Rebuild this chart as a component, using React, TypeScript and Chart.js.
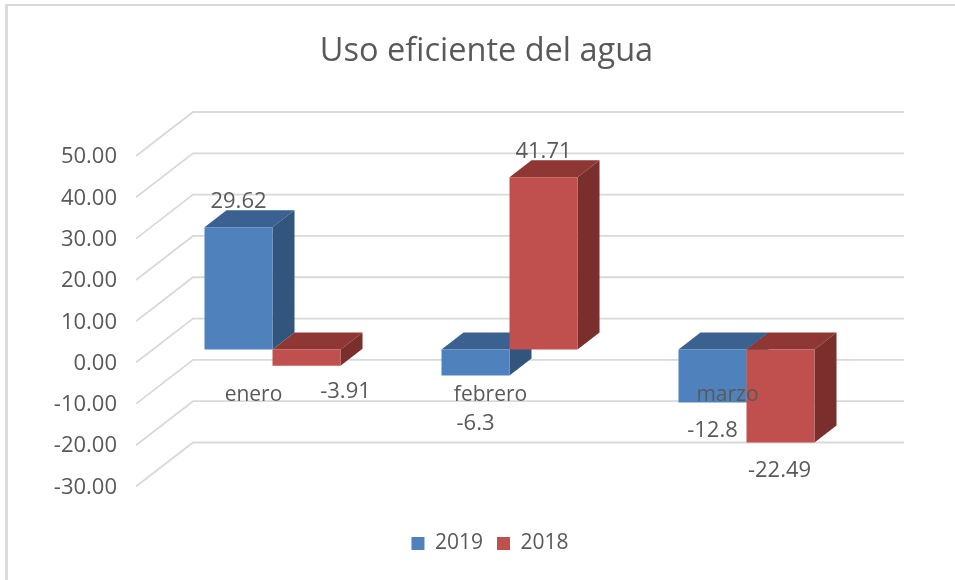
import React, { useEffect, useRef } from "react";
import { Chart, registerables } from "chart.js";

Chart.register(...registerables);

const categories = ["enero", "febrero", "marzo"];
const values2019 = [29.62, -6.3, -12.8];
const values2018 = [-3.91, 41.71, -22.49];
const labelShift2019 = [[0, -25], [0, 48], [0, 28]];
const labelShift2018 = [[39, 26], [0, -26], [-1, 28]];

const FONT = "'Open Sans', 'Noto Sans', sans-serif";
const TEXT = "#595959";
const GRID = "#d9d9d9";
const BACK_DX = 58, BACK_DY = -45;
const BAR_DX = 19, BAR_DY = -14;
const DEPTH_DX = 22, DEPTH_DY = -17;

const faces = [
  { front: "#4f81bd", top: "#3a6190", side: "#31557c" },
  { front: "#c0504d", top: "#8e3735", side: "#7a2f2d" },
];
const shifts = [labelShift2019, labelShift2018];

function poly(ctx: CanvasRenderingContext2D, pts: number[][], fill: string) {
  ctx.fillStyle = fill;
  ctx.beginPath();
  pts.forEach((p, i) => (i ? ctx.lineTo(p[0], p[1]) : ctx.moveTo(p[0], p[1])));
  ctx.closePath();
  ctx.fill();
}

const wallPlugin = {
  id: "wall",
  afterLayout(chart: any) {
    chart.legend.left += 3.5;
    chart.legend.right += 3.5;
  },
  beforeDatasetsDraw(chart: any) {
    const { ctx, chartArea, scales } = chart;
    ctx.save();
    ctx.strokeStyle = GRID;
    ctx.lineWidth = 1.8;
    scales.y.ticks.forEach((t: any) => {
      const y = scales.y.getPixelForValue(t.value);
      ctx.beginPath();
      ctx.moveTo(chartArea.left + 1, y - 1);
      ctx.lineTo(chartArea.left + BACK_DX, y + BACK_DY);
      ctx.lineTo(chartArea.right + BACK_DX, y + BACK_DY);
      ctx.stroke();
    });
    // Per-dataset painting so that the later series overlaps the earlier depth faces
    chart.data.datasets.forEach((_: any, di: number) => {
      const meta = chart.getDatasetMeta(di);
      const c = faces[di];
      meta.data.forEach((bar: any) => {
        const p = bar.getProps(["x", "y", "base", "width"], true);
        const l = p.x - p.width / 2 + BAR_DX, r = p.x + p.width / 2 + BAR_DX;
        const top = Math.min(p.y, p.base) + BAR_DY;
        const bot = Math.max(p.y, p.base) + BAR_DY;
        poly(ctx, [[l, top], [l + DEPTH_DX, top + DEPTH_DY], [r + DEPTH_DX, top + DEPTH_DY], [r, top]], c.top);
        poly(ctx, [[r, top], [r + DEPTH_DX, top + DEPTH_DY], [r + DEPTH_DX, bot + DEPTH_DY], [r, bot]], c.side);
        ctx.save();
        ctx.translate(BAR_DX, BAR_DY);
        bar.draw(ctx, chartArea);
        ctx.restore();
      });
    });
    ctx.restore();
    return false;
  },
  afterDraw(chart: any) {
    const { ctx } = chart;
    ctx.save();
    ctx.font = `22px ${FONT}`;
    ctx.fillStyle = TEXT;
    ctx.textAlign = "center";
    ctx.textBaseline = "middle";
    chart.data.datasets.forEach((ds: any, di: number) => {
      chart.getDatasetMeta(di).data.forEach((bar: any, i: number) => {
        const p = bar.getProps(["x", "y", "base"], true);
        const s = shifts[di][i];
        ctx.fillText(String(ds.data[i]), p.x + BAR_DX + s[0], p.y + BAR_DY + s[1]);
      });
    });
    ctx.restore();
  },
};

export default function App() {
  const ref = useRef<HTMLCanvasElement>(null);
  useEffect(() => {
    const chart = new Chart(ref.current!, {
      type: "bar",
      data: {
        labels: categories,
        datasets: [
          { label: "2019", data: values2019, backgroundColor: faces[0].front },
          { label: "2018", data: values2018, backgroundColor: faces[1].front },
        ],
      },
      plugins: [wallPlugin],
      options: {
        responsive: false,
        animation: false,
        events: [],
        layout: { padding: { left: 18, right: 0, top: 12, bottom: 16 } },
        datasets: { bar: { barPercentage: 1, categoryPercentage: 0.574 } },
        scales: {
          y: {
            min: -30,
            max: 50,
            afterFit: (s: any) => { s.width = 117; },
            border: { display: false },
            grid: { display: false },
            ticks: {
              stepSize: 10,
              padding: 10,
              color: TEXT,
              font: { family: FONT, size: 22 },
              callback: (v: any) => Number(v).toFixed(2),
            },
          },
          x: {
            position: { y: -2 } as any,
            border: { display: false },
            grid: { display: false },
            ticks: { color: TEXT, padding: 3, z: 1, font: { family: FONT, size: 21 } },
          },
          spacerRight: {
            type: "linear",
            position: "right",
            min: 0,
            max: 1,
            afterFit: (s: any) => { s.width = 109; },
            border: { display: false },
            grid: { display: false },
            ticks: { display: false },
          },
          spacerBottom: {
            type: "linear",
            position: "bottom",
            min: 0,
            max: 1,
            afterFit: (s: any) => { s.height = 31.5; },
            border: { display: false },
            grid: { display: false },
            ticks: { display: false },
          },
        },
        plugins: {
          title: {
            display: true,
            text: "Uso eficiente del agua",
            color: TEXT,
            align: "center",
            font: { family: FONT, size: 32.5, weight: "normal" },
            padding: { top: 20, bottom: 86 },
          },
          legend: {
            position: "bottom",
            labels: {
              color: TEXT,
              boxWidth: 13,
              boxHeight: 13,
              padding: 14,
              font: { family: FONT, size: 21 },
            },
          },
          tooltip: { enabled: false },
        },
      } as any,
    });
    return () => chart.destroy();
  }, []);
  return (
    <div style={{ position: "absolute", left: 0, top: 0, width: 955, height: 580, background: "#fff" }}>
      <div style={{ position: "absolute", left: 5, top: 4, right: 0, bottom: 0, borderLeft: "3px solid #dcdcdc", borderTop: "2px solid #d9d9d9" }} />
      <canvas ref={ref} width={955} height={580} style={{ position: "absolute", left: 0, top: 0 }} />
    </div>
  );
}
